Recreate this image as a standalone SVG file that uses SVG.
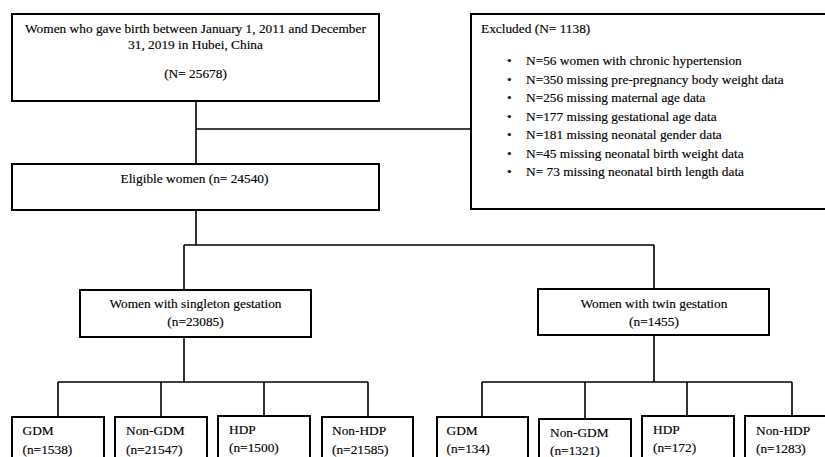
<svg xmlns="http://www.w3.org/2000/svg" width="825" height="457" viewBox="0 0 825 457">
<style>
.box{fill:#fff;stroke:#000;stroke-width:2}
.ln{fill:none;stroke:#000;stroke-width:1.6}
text{font-family:"Liberation Serif","Times New Roman",serif;font-size:13.35px;fill:#000;stroke:#000;stroke-width:0.15}
.c{text-anchor:middle}
</style>
<rect width="825" height="457" fill="#fff"/>
<g id="connectors">
<path class="ln" d="M196 101V164M196 129H471"/>
<path class="ln" d="M196 210V245M184 245H654M184 245V290M654 245V289"/>
<path class="ln" d="M184 337V382M58 382H368M58 382V417M161 382V417M264 382V416M368 382V417"/>
<path class="ln" d="M654 336V382M482 382H792M482 382V417M585 382V419M687 382V416M792 382V416"/>
</g>
<g id="source">
<rect class="box" x="12" y="14" width="367" height="87"/>
<text class="c" x="195.5" y="32.5">Women who gave birth between January 1, 2011 and December</text>
<text class="c" x="195.5" y="48.5">31, 2019 in Hubei, China</text>
<text class="c" x="195.5" y="77.5">(N= 25678)</text>
</g>
<g id="excluded">
<rect class="box" x="471" y="14" width="370" height="195"/>
<text x="481" y="32.5">Excluded (N= 1138)</text>
<g>
<text x="507" y="65">•</text><text x="526" y="65">N=56 women with chronic hypertension</text>
<text x="507" y="83.5">•</text><text x="526" y="83.5">N=350 missing pre-pregnancy body weight data</text>
<text x="507" y="102">•</text><text x="526" y="102">N=256 missing maternal age data</text>
<text x="507" y="120.5">•</text><text x="526" y="120.5">N=177 missing gestational age data</text>
<text x="507" y="139">•</text><text x="526" y="139">N=181 missing neonatal gender data</text>
<text x="507" y="157.5">•</text><text x="526" y="157.5">N=45 missing neonatal birth weight data</text>
<text x="507" y="176">•</text><text x="526" y="176">N= 73 missing neonatal birth length data</text>
</g>
</g>
<g id="eligible">
<rect class="box" x="12" y="164" width="367" height="46"/>
<text class="c" x="194.5" y="182.5">Eligible women (n= 24540)</text>
</g>
<g id="singleton">
<rect class="box" x="80" y="290" width="231" height="47"/>
<text class="c" x="195.5" y="307.5">Women with singleton gestation</text>
<text class="c" x="195.5" y="325.5">(n=23085)</text>
</g>
<g id="twin">
<rect class="box" x="538" y="289" width="231" height="46"/>
<text class="c" x="654" y="307.5">Women with twin gestation</text>
<text class="c" x="654" y="325.5">(n=1455)</text>
</g>
<g id="s-gdm">
<rect class="box" x="12" y="417" width="92" height="60"/>
<text x="22.5" y="435">GDM</text><text x="22.5" y="453.5">(n=1538)</text>
</g>
<g id="s-nongdm">
<rect class="box" x="115" y="417" width="92" height="60"/>
<text x="126" y="435">Non-GDM</text><text x="126" y="453.5">(n=21547)</text>
</g>
<g id="s-hdp">
<rect class="box" x="218" y="416" width="92" height="60"/>
<text x="229" y="433.5">HDP</text><text x="229" y="452">(n=1500)</text>
</g>
<g id="s-nonhdp">
<rect class="box" x="322" y="417" width="91" height="60"/>
<text x="332" y="435">Non-HDP</text><text x="332" y="453.5">(n=21585)</text>
</g>
<g id="t-gdm">
<rect class="box" x="437" y="417" width="91" height="60"/>
<text x="446.5" y="434.5">GDM</text><text x="446.5" y="453">(n=134)</text>
</g>
<g id="t-nongdm">
<rect class="box" x="539" y="419" width="92" height="60"/>
<text x="550" y="436.5">Non-GDM</text><text x="550" y="454.5">(n=1321)</text>
</g>
<g id="t-hdp">
<rect class="box" x="642" y="416" width="92" height="60"/>
<text x="653" y="433.5">HDP</text><text x="653" y="452">(n=172)</text>
</g>
<g id="t-nonhdp">
<rect class="box" x="745" y="416" width="92" height="60"/>
<text x="756" y="434.5">Non-HDP</text><text x="756" y="453">(n=1283)</text>
</g>
</svg>
